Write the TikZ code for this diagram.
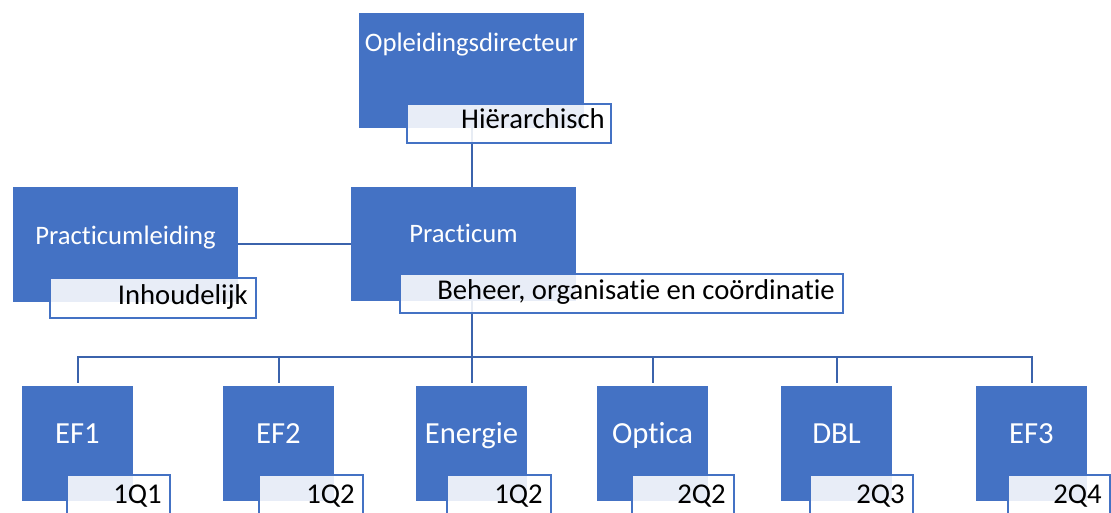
\documentclass[tikz,border=0pt]{standalone}
\usepackage{fontspec}
\setmainfont{Carlito}[RawFeature={-liga;-clig;-dlig}]
\usetikzlibrary{fit}
\definecolor{acc}{HTML}{4472C4}
\definecolor{conn}{HTML}{3B63AC}
\begin{document}
\begin{tikzpicture}[x=0.75pt,y=-0.75pt,
  unitbox/.style={fill=acc, inner sep=0pt},
  tagbox/.style={draw=acc, line width=1.5pt, fill=white, fill opacity=0.88, inner sep=0pt},
  titletxt/.style={text=white, font=\fontsize{20}{24}\selectfont, inner sep=0pt, anchor=base},
  lowtxt/.style={text=white, font=\fontsize{23}{27}\selectfont, inner sep=0pt, anchor=base},
  tagtxt/.style={text=black, font=\fontsize{21.5}{26}\selectfont, inner sep=0pt, anchor=base east},
  link/.style={draw=conn, line width=1.5pt}]
\useasboundingbox (0,0) rectangle (1111,513);
\clip (0,0) rectangle (1111,513);

% top and middle units
\node[unitbox, fit={(359,13) (584,128)}] (od) {};
\node[unitbox, fit={(13,187) (238,302)}] (pl) {};
\node[unitbox, fit={(351,187) (576,301)}] (pr) {};

% bottom row units
\foreach \n/\l in {ef1/22, ef2/223, en/416, op/597, dbl/781, ef3/976}{
  \node[unitbox, fit={(\l,386) (\l+111,501)}] (\n) {};
}
\coordinate (bus) at (0,357);
\coordinate (lowbase) at (0,444);

% connectors
\draw[link] (od.south) -- (pr.north -| od.south);
\draw[link] (pl.east) -- (pr.west |- pl.east);
\draw[link] (pr.south -| od.south) -- (bus -| od.south);
\draw[link] ([yshift=2.25pt]ef1.north) -- (bus -| ef1.north) -- (bus -| ef3.north) -- ([yshift=2.25pt]ef3.north);
\foreach \n in {ef2, en, op, dbl}{
  \draw[link] (bus -| \n.north) -- ([yshift=2.25pt]\n.north);
}

% titles
\node[titletxt] (odt) at (471.5,52) {Opleidingsdirecteur};
\node[titletxt] (plt) at (125.5,245) {Practicumleiding};
\node[titletxt] (prt) at (463.5,243) {Practicum};
\foreach \n/\t in {ef1/EF1, ef2/EF2, en/Energie, op/Optica, dbl/DBL, ef3/EF3}{
  \node[lowtxt] (\n t) at (\n.north |- lowbase) {\t};
}

% tag boxes
\node[tagbox, fit={(407,104) (611,143)}] (hier) {};
\node[tagtxt] at (605,129) {Hiërarchisch};
\node[tagbox, fit={(50,278) (256,318)}] (inh) {};
\node[tagtxt] at (248,305) {Inhoudelijk};
\node[tagbox, fit={(400,274) (843,313)}] (beh) {};
\node[tagtxt] at (835,300) {Beheer, organisatie en coördinatie};

\foreach \n/\a/\b/\t in {q1/67/170/1Q1, q2/259/363/1Q2, q3/447/551/1Q2, q4/632/734/2Q2, q5/810/913/2Q3, q6/1008/1110/2Q4}{
  \node[tagbox, fit={(\a,475) (\b,530)}] (\n) {};
  \node[tagtxt] at (\b-8,503) {\t};
}
\end{tikzpicture}
\end{document}
